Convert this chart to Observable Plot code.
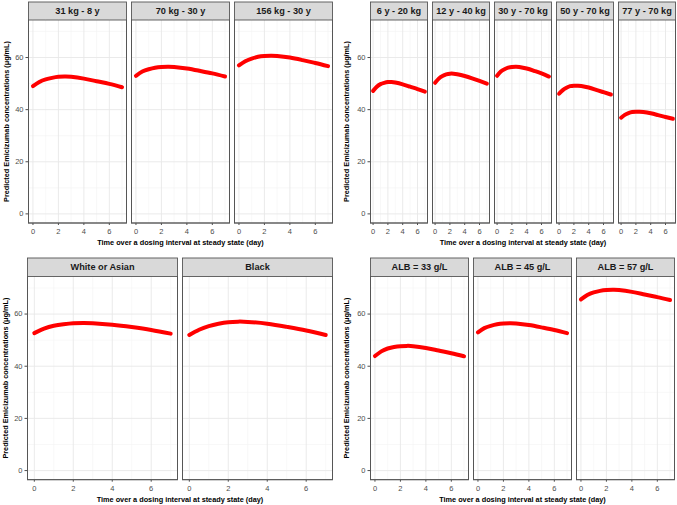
<!DOCTYPE html>
<html><head><meta charset="utf-8">
<script src="https://cdn.jsdelivr.net/npm/d3@7"></script>
<script src="https://cdn.jsdelivr.net/npm/@observablehq/plot@0.6"></script>
<style>
body{margin:0;background:#fff;}
#fig{position:relative;width:677px;height:505px;background:#fff;}
#fig > svg{position:absolute;}
#fig [aria-label="x-axis label"], #fig [aria-label="y-axis label"]{font-weight:bold;fill:#000;font-size:7.3px;}
</style></head><body><div id="fig"></div>
<script>
// time points (day)
const time = [0, 0.5, 1, 1.5, 2, 2.5, 3, 4, 5, 6, 7];
const xTicks = [0, 2, 4, 6];
const xMinor = [1, 3, 5, 7];
const yTicks = [0, 20, 40, 60];
const yMinor = [10, 30, 50, 70];
const yTitle = "Predicted Emicizumab concentrations (μg/mL)";
const xTitle = "Time over a dosing interval at steady state (day)";

// panel A: body weight - age
const weightLabels = ["31 kg - 8 y", "70 kg - 30 y", "156 kg - 30 y"];
const weightConc = [
  [49.0, 50.6, 51.6, 52.2, 52.6, 52.7, 52.6, 51.9, 50.9, 49.9, 48.6],
  [53.0, 54.6, 55.5, 56.1, 56.4, 56.5, 56.4, 55.8, 54.9, 53.9, 52.7],
  [57.0, 58.6, 59.6, 60.3, 60.6, 60.7, 60.6, 60.0, 59.0, 57.9, 56.7]
];
// panel B: age - body weight
const ageLabels = ["6 y - 20 kg", "12 y - 40 kg", "30 y - 70 kg", "50 y - 70 kg", "77 y - 70 kg"];
const ageConc = [
  [47.2, 48.8, 49.8, 50.3, 50.6, 50.6, 50.4, 49.7, 48.8, 47.9, 46.9],
  [50.3, 51.9, 52.9, 53.5, 53.8, 53.8, 53.6, 52.9, 52.0, 51.0, 50.0],
  [53.0, 54.6, 55.5, 56.1, 56.4, 56.5, 56.4, 55.8, 54.9, 53.9, 52.7],
  [46.1, 47.5, 48.4, 49.0, 49.2, 49.2, 49.1, 48.5, 47.6, 46.7, 45.8],
  [36.9, 38.0, 38.7, 39.1, 39.2, 39.2, 39.1, 38.6, 37.9, 37.2, 36.5]
];
// panel C: race
const raceLabels = ["White or Asian", "Black"];
const raceConc = [
  [52.7, 54.4, 55.5, 56.1, 56.5, 56.6, 56.5, 55.9, 55.0, 53.9, 52.5],
  [52.0, 54.0, 55.4, 56.3, 56.9, 57.1, 57.0, 56.3, 55.1, 53.7, 52.0]
];
// panel D: albumin
const albLabels = ["ALB = 33 g/L", "ALB = 45 g/L", "ALB = 57 g/L"];
const albConc = [
  [43.9, 45.7, 46.8, 47.4, 47.7, 47.8, 47.7, 47.0, 46.0, 45.0, 43.8],
  [53.0, 54.6, 55.5, 56.1, 56.4, 56.5, 56.4, 55.8, 54.9, 53.9, 52.7],
  [65.6, 67.3, 68.3, 68.9, 69.2, 69.3, 69.2, 68.5, 67.5, 66.5, 65.4]
];

function panel(labels, series, o) {
  const rows = [];
  labels.forEach((lab, i) => series[i].forEach((v, j) => rows.push({group: lab, t: time[j], c: v})));
  const svg = Plot.plot({
    width: o.width, height: o.height,
    marginLeft: o.mL, marginRight: o.mR, marginTop: o.mT, marginBottom: o.mB,
    style: {fontFamily: "'Liberation Sans', Arial, sans-serif", fontSize: "7.5px", color: "#4d4d4d", background: "transparent"},
    fx: {domain: labels, paddingInner: o.pad, paddingOuter: 0, axis: null, label: null},
    x: {domain: [-0.35, 7.35], ticks: xTicks, tickSize: 2.5, tickPadding: 3, label: xTitle, labelArrow: "none", labelAnchor: "center", labelOffset: o.xOff},
    y: {domain: [-3.5, 74.4], ticks: yTicks, tickSize: 2.5, tickPadding: 2.5, label: yTitle, labelArrow: "none", labelAnchor: "center", labelOffset: o.yOff},
    marks: [
      Plot.frame({insetTop: -o.strip, fill: "#d9d9d9", stroke: "none"}),
      Plot.frame({fill: "white", stroke: "none"}),
      Plot.ruleX(xMinor, {stroke: "#f3f3f3", strokeWidth: 0.6}),
      Plot.ruleY(yMinor, {stroke: "#f3f3f3", strokeWidth: 0.6}),
      Plot.ruleX(xTicks, {stroke: "#e8e8e8", strokeWidth: 0.9}),
      Plot.ruleY(yTicks, {stroke: "#e8e8e8", strokeWidth: 0.9}),
      Plot.line(rows, {fx: "group", x: "t", y: "c", stroke: "#ff0000", strokeWidth: 4, curve: "natural"}),
      Plot.frame({insetTop: -o.strip, stroke: "#555", strokeWidth: 0.9}),
      Plot.frame({stroke: "#555", strokeWidth: 0.9}),
      Plot.text(labels, {fx: d => d, text: d => d, frameAnchor: "top", dy: -o.strip / 2, lineAnchor: "middle",
        fontWeight: "bold", fontSize: 9.2, fill: "#1a1a1a"})
    ]
  });
  svg.style.left = o.left + "px";
  svg.style.top = o.top + "px";
  document.getElementById("fig").appendChild(svg);
}

panel(weightLabels, weightConc, {left: 0, top: 0, width: 338, height: 250, mL: 26.7, mR: 4.7, mT: 19.5, mB: 27.5, pad: 0.048, strip: 18, xOff: 21.5, yOff: 25});
panel(ageLabels, ageConc, {left: 338, top: 0, width: 339, height: 250, mL: 31.5, mR: 2.3, mT: 19.5, mB: 27.5, pad: 0.0806, strip: 18, xOff: 21.5, yOff: 26.5});
panel(raceLabels, raceConc, {left: 0, top: 250, width: 338, height: 255, mL: 26.7, mR: 5.3, mT: 26, mB: 25.8, pad: 0.0322, strip: 18.5, xOff: 22.5, yOff: 25});
panel(albLabels, albConc, {left: 338, top: 250, width: 339, height: 255, mL: 31.5, mR: 1.5, mT: 26, mB: 25.8, pad: 0.048, strip: 18.5, xOff: 22.5, yOff: 26.5});
</script>
</body></html>
